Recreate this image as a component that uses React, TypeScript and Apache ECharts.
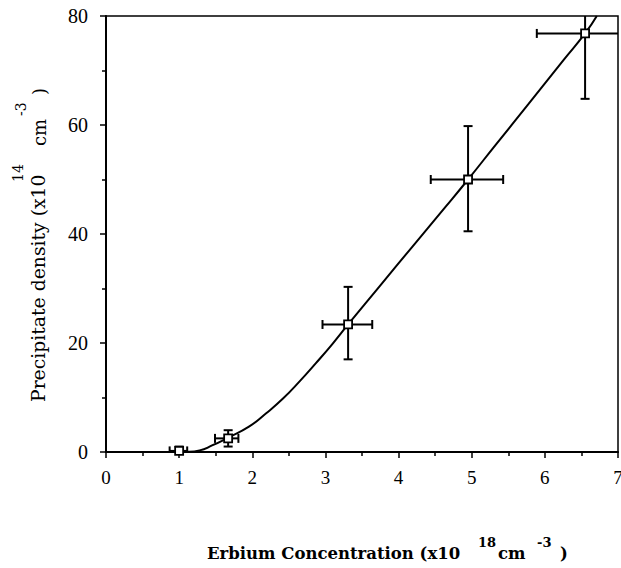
import React, { useEffect, useRef } from "react";
import * as echarts from "echarts";

// Measured points (Erbium concentration x10^18 cm^-3, precipitate density x10^14 cm^-3)
const pointX = [1.0, 1.67, 3.31, 4.95, 6.55];
const pointY = [0.2, 2.5, 23.4, 50.0, 76.8];
const xErrLow = [0.87, 1.49, 2.96, 4.44, 5.89];
const xErrHigh = [1.11, 1.81, 3.64, 5.43, 7.2];
const yErrLow = [-0.6, 1.0, 17.0, 40.5, 64.8];
const yErrHigh = [1.0, 4.0, 30.3, 59.8, 88.8];

// Fitted curve
const curveX = [0.88, 1.1, 1.28, 1.45, 1.65, 1.96, 2.19, 2.42, 2.65, 2.87, 3.1, 3.31, 3.74, 4.19, 4.65, 4.95, 5.33, 5.78, 6.26, 6.55, 6.71];
const curveY = [0, 0.05, 0.3, 1.2, 2.5, 4.7, 7.1, 9.8, 13.0, 16.3, 19.9, 23.4, 30.4, 37.7, 45.1, 50.0, 56.4, 63.9, 72.0, 76.8, 80];

const X_MIN = 0;
const X_MAX = 7;
const X_STEP = 1;
const Y_MIN = 0;
const Y_MAX = 80;
const Y_STEP = 20;

const FONT = "'Liberation Serif', 'DejaVu Serif', serif";
const TITLE_FONT = "'DejaVu Serif', 'Liberation Serif', serif";

export default function App() {
  const ref = useRef<HTMLDivElement>(null);

  useEffect(() => {
    if (!ref.current) return;
    const chart = echarts.init(ref.current, null, { renderer: "svg" });

    const errData = pointX.map((x, i) => [x, pointY[i], xErrLow[i], xErrHigh[i], yErrLow[i], yErrHigh[i]]);
    const scatterData = pointX.map((x, i) => [x, pointY[i]]);
    const curveData = curveX.map((x, i) => [x, curveY[i]]);

    const cap = 4.5;

    const option: any = {
      animation: false,
      backgroundColor: "#fff",
      grid: {
        left: 106,
        top: 16,
        width: 512,
        height: 436,
        outerBoundsMode: "none",
        containLabel: false,
        show: true,
        borderColor: "#000",
        borderWidth: 1.5,
        backgroundColor: "transparent",
      },
      xAxis: {
        type: "value",
        min: X_MIN,
        max: X_MAX,
        interval: X_STEP,
        axisLine: { show: true, onZero: false, lineStyle: { color: "#000", width: 2 } },
        axisTick: { show: true, inside: false, length: 6, lineStyle: { color: "#000", width: 1.5 } },
        minorTick: { show: true, splitNumber: 2, length: 4, lineStyle: { color: "#000", width: 1.5 } },
        splitLine: { show: false },
        axisLabel: { color: "#000", fontSize: 19, fontFamily: FONT, margin: 16, showMaxLabel: true, hideOverlap: false },
      },
      yAxis: {
        type: "value",
        min: Y_MIN,
        max: Y_MAX,
        interval: Y_STEP,
        axisLine: { show: true, onZero: false, lineStyle: { color: "#000", width: 2 } },
        axisTick: { show: true, inside: false, length: 6, lineStyle: { color: "#000", width: 1.5 } },
        minorTick: { show: true, splitNumber: 2, length: 4, lineStyle: { color: "#000", width: 1.5 } },
        splitLine: { show: false },
        axisLabel: { color: "#000", fontSize: 20, fontFamily: FONT, margin: 18 },
      },
      series: [
        {
          type: "line",
          data: curveData,
          showSymbol: false,
          smooth: 0.5,
          clip: true,
          lineStyle: { color: "#000", width: 2 },
          z: 2,
        },
        {
          type: "custom",
          data: errData,
          clip: true,
          z: 3,
          renderItem: (params: any, api: any) => {
            const x = api.value(0);
            const y = api.value(1);
            const xl = api.value(2);
            const xh = api.value(3);
            const yl = api.value(4);
            const yh = api.value(5);
            const cx = (v: number) => Math.max(X_MIN, Math.min(X_MAX, v));
            const cy = (v: number) => Math.max(Y_MIN, Math.min(Y_MAX, v));
            const pL = api.coord([cx(xl), y]);
            const pH = api.coord([cx(xh), y]);
            const pB = api.coord([x, cy(yl)]);
            const pT = api.coord([x, cy(yh)]);
            const style = { stroke: "#000", lineWidth: 2, fill: "none" };
            const children: any[] = [
              { type: "line", shape: { x1: pL[0], y1: pL[1], x2: pH[0], y2: pH[1] }, style },
              { type: "line", shape: { x1: pB[0], y1: pB[1], x2: pT[0], y2: pT[1] }, style },
            ];
            if (xl >= X_MIN) children.push({ type: "line", shape: { x1: pL[0], y1: pL[1] - cap, x2: pL[0], y2: pL[1] + cap }, style });
            if (xh <= X_MAX) children.push({ type: "line", shape: { x1: pH[0], y1: pH[1] - cap, x2: pH[0], y2: pH[1] + cap }, style });
            if (yl >= Y_MIN) children.push({ type: "line", shape: { x1: pB[0] - cap, y1: pB[1], x2: pB[0] + cap, y2: pB[1] }, style });
            if (yh <= Y_MAX) children.push({ type: "line", shape: { x1: pT[0] - cap, y1: pT[1], x2: pT[0] + cap, y2: pT[1] }, style });
            return { type: "group", children };
          },
        },
        {
          type: "scatter",
          data: scatterData,
          symbol: "rect",
          symbolSize: 8,
          itemStyle: { color: "#fff", borderColor: "#000", borderWidth: 1.8, opacity: 1 },
          z: 4,
        },
      ],
      graphic: [
        // y-axis title pieces
        {
          type: "text",
          x: 38,
          y: 402,
          rotation: Math.PI / 2,
          style: { text: "Precipitate density (x10", font: `18.8px ${TITLE_FONT}`, fill: "#000", align: "left", verticalAlign: "middle" },
        },
        {
          type: "text",
          x: 18,
          y: 182,
          rotation: Math.PI / 2,
          style: { text: "14", font: `14px ${TITLE_FONT}`, fill: "#000", align: "left", verticalAlign: "middle" },
        },
        {
          type: "text",
          x: 39,
          y: 146,
          rotation: Math.PI / 2,
          style: { text: "cm", font: `18px ${TITLE_FONT}`, fill: "#000", align: "left", verticalAlign: "middle" },
        },
        {
          type: "text",
          x: 21,
          y: 116,
          rotation: Math.PI / 2,
          style: { text: "-3", font: `14px ${TITLE_FONT}`, fill: "#000", align: "left", verticalAlign: "middle" },
        },
        {
          type: "text",
          x: 39,
          y: 95,
          rotation: Math.PI / 2,
          style: { text: ")", font: `18px ${TITLE_FONT}`, fill: "#000", align: "left", verticalAlign: "middle" },
        },
        // x-axis title pieces
        {
          type: "text",
          x: 207,
          y: 562,
          style: { text: "Erbium Concentration (x10", font: `bold 16.5px ${TITLE_FONT}`, fill: "#000", align: "left", verticalAlign: "bottom" },
        },
        {
          type: "text",
          x: 478,
          y: 549,
          style: { text: "18", font: `bold 13px ${TITLE_FONT}`, fill: "#000", align: "left", verticalAlign: "bottom" },
        },
        {
          type: "text",
          x: 498,
          y: 562,
          style: { text: "cm", font: `bold 16.5px ${TITLE_FONT}`, fill: "#000", align: "left", verticalAlign: "bottom" },
        },
        {
          type: "text",
          x: 537,
          y: 549,
          style: { text: "-3", font: `bold 13px ${TITLE_FONT}`, fill: "#000", align: "left", verticalAlign: "bottom" },
        },
        {
          type: "text",
          x: 560,
          y: 562,
          style: { text: ")", font: `bold 16.5px ${TITLE_FONT}`, fill: "#000", align: "left", verticalAlign: "bottom" },
        },
      ],
    };

    chart.setOption(option);
    return () => chart.dispose();
  }, []);

  return (
    <div
      ref={ref}
      style={{ position: "fixed", left: 0, top: 0, width: 621, height: 568, background: "#fff" }}
    />
  );
}
